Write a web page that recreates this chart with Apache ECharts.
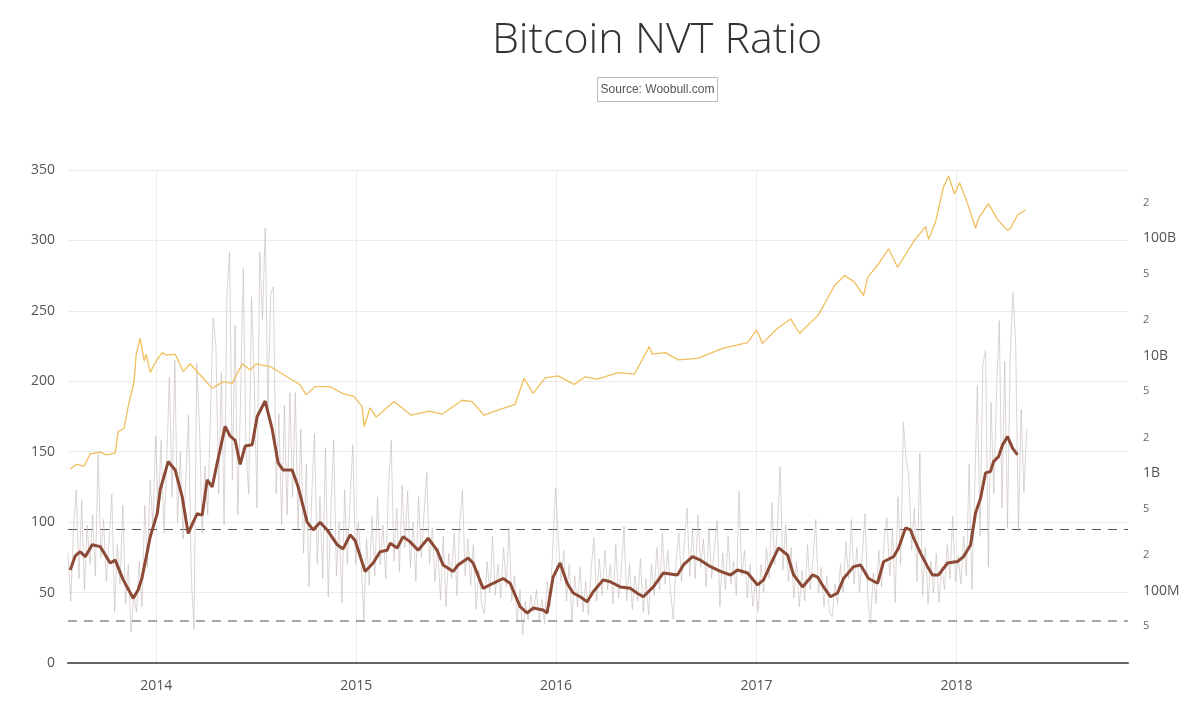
<!DOCTYPE html>
<html>
<head>
<meta charset="utf-8">
<title>Bitcoin NVT Ratio</title>
<script src="https://cdn.jsdelivr.net/npm/echarts@6/dist/echarts.min.js"></script>
<style>
  html, body { margin: 0; padding: 0; background: #fff; }
  #main { width: 1200px; height: 704px; }
</style>
</head>
<body>
<div id="main"></div>
<script>
// daily NVT, one reading every 5 days starting 2013-07-24
var nvtStart = Date.UTC(2013, 6, 24);
var nvtStepDays = 5;
var nvtDaily = [
  78, 44, 95, 123, 60, 116, 52, 98, 70, 105, 62, 148, 75, 102, 58, 88, 120, 36, 84, 56,
  112, 42, 70, 22, 48, 36, 72, 40, 112, 68, 130, 96, 161,
  110, 158, 92, 140, 203, 118, 215, 100, 150, 88, 130, 176, 62, 24, 213, 168, 92, 140, 105, 175,
  245, 225, 120, 206, 98, 260, 292, 130, 240, 105, 188, 280, 150, 120, 260, 201, 110, 292, 244, 309,
  180, 262, 267, 120, 177, 98, 183, 105, 192, 118, 192, 95, 166, 78, 141, 54, 120, 163, 70, 118,
  60, 153, 47, 110, 158, 62, 100, 43, 123, 70, 118, 155, 70,
  100, 72, 31, 88, 55, 104, 62, 118, 70, 98, 60, 125, 158, 72, 110, 65, 126, 82, 122, 68,
  100, 58, 118, 75, 106, 135, 70, 96, 58, 82, 45, 90, 40, 78, 60, 92, 48, 100, 123, 62,
  88, 55, 84, 38, 66, 42, 35, 72, 50, 90, 48, 70, 46, 82, 54, 96, 44, 62, 30, 52,
  20, 44, 30, 48, 36, 52, 30, 45, 28, 58, 40, 82, 124,
  90, 58, 80, 44, 70, 30, 62, 40, 68, 36, 58, 34, 66, 89, 44, 74, 48, 80, 52, 70,
  42, 84, 46, 66, 97, 44, 70, 38, 62, 44, 74, 36, 60, 34, 70, 48, 82, 52, 92, 56,
  80, 50, 31, 72, 92, 58, 84, 110, 62, 96, 60, 105, 68, 88, 54, 96, 60, 82, 101, 40,
  78, 52, 90, 56, 72, 48, 122, 62, 80, 46, 70, 40, 58,
  36, 70, 50, 82, 60, 114, 70, 96, 139, 66, 98, 58, 82, 46, 72, 40, 66, 44, 84, 52,
  74, 102, 50, 68, 40, 62, 36, 33, 56, 42, 70, 50, 86, 60, 102, 56, 82, 50, 78, 106,
  46, 28, 64, 42, 80, 54, 88, 103, 62, 96, 43, 118, 70, 171, 145, 132, 80, 110, 58, 149,
  48, 82, 42, 72, 50, 78, 43, 68, 52, 84, 60, 104, 58,
  76, 56, 90, 62, 141, 52, 120, 197, 90, 212, 222, 68, 185, 120, 192, 243, 110, 214, 96, 217,
  263, 226, 93, 180, 121, 166
];

// smoothed NVT: [decimal year, ratio]
var nvtSmooth = [
  [2013.57, 66], [2013.595, 76], [2013.62, 79], [2013.645, 75.5], [2013.68, 84], [2013.72, 82.6],
  [2013.77, 71], [2013.795, 73], [2013.835, 59], [2013.885, 46], [2013.91, 52], [2013.93, 61],
  [2013.97, 89.5], [2014.005, 106], [2014.02, 123], [2014.06, 143], [2014.095, 137], [2014.13, 118],
  [2014.16, 92], [2014.185, 100], [2014.205, 106], [2014.23, 105], [2014.255, 130], [2014.28, 125],
  [2014.305, 142], [2014.345, 168], [2014.37, 161], [2014.395, 158], [2014.42, 141], [2014.445, 154],
  [2014.48, 155], [2014.505, 175], [2014.545, 186], [2014.58, 166], [2014.61, 142], [2014.635, 137],
  [2014.68, 137], [2014.71, 125], [2014.755, 100], [2014.785, 94.5], [2014.82, 100], [2014.855, 94.5],
  [2014.905, 84], [2014.935, 81], [2014.97, 91], [2014.995, 87], [2015.045, 65], [2015.085, 71],
  [2015.12, 79], [2015.155, 80], [2015.17, 85], [2015.205, 81.6], [2015.235, 89.7], [2015.27, 86],
  [2015.31, 80], [2015.36, 88.6], [2015.405, 80], [2015.435, 69.6], [2015.485, 65], [2015.51, 69.6],
  [2015.56, 74.5], [2015.585, 71], [2015.635, 53], [2015.685, 56.6], [2015.735, 60], [2015.77, 56.6],
  [2015.82, 40], [2015.855, 35.5], [2015.885, 39], [2015.935, 37.6], [2015.955, 35.5], [2015.985, 61],
  [2016.02, 71], [2016.055, 56.6], [2016.085, 49.7], [2016.12, 47], [2016.155, 43.5], [2016.185, 50.6],
  [2016.235, 59], [2016.27, 57.7], [2016.32, 54], [2016.37, 53], [2016.405, 49.5], [2016.435, 47],
  [2016.485, 54], [2016.535, 63.9], [2016.605, 62.5], [2016.635, 69.6], [2016.68, 75.5], [2016.72, 73],
  [2016.77, 68.4], [2016.82, 65], [2016.87, 62.5], [2016.905, 66], [2016.955, 63.9], [2017.005, 55.4],
  [2017.035, 59], [2017.08, 73], [2017.11, 81.7], [2017.155, 76.7], [2017.185, 62.5], [2017.23, 54],
  [2017.28, 62.5], [2017.305, 61], [2017.335, 54], [2017.37, 47], [2017.405, 49.7], [2017.435, 60],
  [2017.485, 68.4], [2017.52, 69.6], [2017.56, 60], [2017.605, 56.6], [2017.635, 71.9], [2017.685, 75.5],
  [2017.71, 81.7], [2017.745, 95.9], [2017.77, 94.5], [2017.785, 88.8], [2017.82, 78], [2017.855, 68.4],
  [2017.88, 62.5], [2017.91, 62.5], [2017.955, 71], [2018.005, 72], [2018.035, 75.5], [2018.07, 83.8],
  [2018.095, 106.5], [2018.12, 117], [2018.145, 135], [2018.17, 136], [2018.185, 143], [2018.21, 146.5],
  [2018.23, 154.8], [2018.255, 160.7], [2018.28, 152.5], [2018.305, 147.7]
];

// market cap in billions USD: [decimal year, value]
var marketCap = [
  [2013.57, 1.08], [2013.60, 1.19], [2013.64, 1.15], [2013.67, 1.46], [2013.72, 1.51], [2013.75, 1.43],
  [2013.795, 1.49], [2013.81, 2.25], [2013.84, 2.41], [2013.86, 3.69], [2013.89, 6.08], [2013.90, 10.3],
  [2013.92, 14.0], [2013.94, 9.0], [2013.95, 10.3], [2013.97, 7.19], [2014.00, 9.0], [2014.03, 10.6],
  [2014.05, 10.1], [2014.095, 10.3], [2014.135, 7.31], [2014.17, 8.52], [2014.22, 6.84], [2014.28, 5.28],
  [2014.335, 6.01], [2014.38, 5.80], [2014.43, 8.50], [2014.47, 7.55], [2014.50, 8.50], [2014.57, 8.07],
  [2014.64, 6.84], [2014.72, 5.64], [2014.75, 4.63], [2014.795, 5.45], [2014.87, 5.45], [2014.93, 4.78],
  [2014.99, 4.48], [2015.03, 3.68], [2015.04, 2.49], [2015.07, 3.60], [2015.10, 3.00], [2015.19, 4.06],
  [2015.275, 3.11], [2015.365, 3.37], [2015.43, 3.17], [2015.53, 4.17], [2015.58, 4.06], [2015.64, 3.11],
  [2015.72, 3.49], [2015.795, 3.84], [2015.84, 6.41], [2015.885, 4.77], [2015.945, 6.47], [2016.01, 6.71],
  [2016.09, 5.69], [2016.145, 6.58], [2016.205, 6.30], [2016.31, 7.17], [2016.39, 6.94], [2016.465, 11.9],
  [2016.48, 10.3], [2016.545, 10.6], [2016.61, 9.18], [2016.705, 9.46], [2016.83, 11.5], [2016.955, 12.9],
  [2017.00, 16.5], [2017.03, 12.7], [2017.10, 16.8], [2017.17, 20.5], [2017.215, 15.4], [2017.31, 22.3],
  [2017.39, 39.4], [2017.44, 47.9], [2017.49, 42.1], [2017.535, 32.3], [2017.555, 46.3], [2017.61, 60.1],
  [2017.66, 81.0], [2017.705, 56.4], [2017.79, 96.0], [2017.845, 125], [2017.86, 97.3], [2017.895, 137],
  [2017.935, 273], [2017.96, 337], [2017.99, 238], [2018.015, 295], [2018.055, 196], [2018.095, 121],
  [2018.11, 147], [2018.16, 196], [2018.205, 144], [2018.255, 116], [2018.27, 121], [2018.305, 157],
  [2018.345, 173]
];

var yearTicks = [2014, 2015, 2016, 2017, 2018];
var capTicks = [0.05, 0.1, 0.2, 0.5, 1, 2, 5, 10, 20, 50, 100, 200];
var capNames = { '0.1': '100M', '1': '1B', '10': '10B', '100': '100B' };
var bandLevels = [95, 30];

function yearToTime(y) {
  var yr = Math.floor(y);
  var s = Date.UTC(yr, 0, 1), e = Date.UTC(yr + 1, 0, 1);
  return s + (y - yr) * (e - s);
}

var dailyData = nvtDaily.map(function (v, i) {
  return [nvtStart + i * nvtStepDays * 86400000, v];
});
var smoothData = nvtSmooth.map(function (p) { return [yearToTime(p[0]), p[1]]; });
var capData = marketCap.map(function (p) { return [yearToTime(p[0]), p[1]]; });
var yearTimes = yearTicks.map(function (y) { return Date.UTC(y, 0, 1); });

var chart = echarts.init(document.getElementById('main'));

var option = {
  animation: false,
  backgroundColor: '#fff',
  textStyle: { fontFamily: '"Open Sans", "DejaVu Sans", sans-serif' },
  grid: { left: 68, right: 72, top: 170, bottom: 41 },
  graphic: [
    {
      type: 'text', x: 657, y: 41,
      style: {
        text: 'Bitcoin NVT Ratio', fill: '#333',
        fontSize: 43, fontWeight: 300, fontFamily: '"Open Sans", sans-serif',
        textAlign: 'center', align: 'center', textVerticalAlign: 'middle', verticalAlign: 'middle'
      }
    },
    {
      type: 'rect',
      shape: { x: 597.5, y: 77.5, width: 120, height: 24 },
      style: { fill: '#fff', stroke: '#bbb', lineWidth: 1 }
    },
    {
      type: 'text', x: 657.5, y: 89.5,
      style: {
        text: 'Source: Woobull.com', fill: '#555',
        fontSize: 12, fontFamily: '"Liberation Sans", Arial, sans-serif',
        textAlign: 'center', align: 'center', textVerticalAlign: 'middle', verticalAlign: 'middle'
      }
    }
  ],
  xAxis: {
    type: 'time',
    min: Date.UTC(2013, 6, 24),
    max: Date.UTC(2018, 10, 10),
    axisLine: { lineStyle: { color: '#666', width: 2 } },
    axisTick: { show: false },
    splitLine: { show: false },
    axisLabel: {
      color: '#555', fontSize: 14, margin: 16,
      showMinLabel: false, showMaxLabel: false,
      formatter: function (v) {
        var d = new Date(v);
        return (d.getUTCMonth() === 0 && d.getUTCDate() === 1) ? String(d.getUTCFullYear()) : '';
      }
    }
  },
  yAxis: [
    {
      type: 'value', min: 0, max: 350, interval: 50,
      axisLine: { show: false },
      axisTick: { show: false },
      axisLabel: { color: '#555', fontSize: 14, margin: 13 },
      splitLine: { lineStyle: { color: '#ebebeb' } }
    },
    {
      type: 'log', logBase: 10, min: 0.0243, max: 378.5, position: 'right',
      axisLine: { show: false },
      axisTick: { show: false },
      splitLine: { show: false },
      minorTick: { show: false },
      axisLabel: {
        customValues: capTicks,
        margin: 15,
        formatter: function (v) {
          for (var k in capNames) {
            if (Math.abs(v / Number(k) - 1) < 1e-6) return '{big|' + capNames[k] + '}';
          }
          var mag = Math.pow(10, Math.floor(Math.log10(v) + 1e-9));
          return '{small|' + Math.round(v / mag) + '}';
        },
        rich: {
          big: { fontSize: 14, color: '#555', fontFamily: '"Open Sans", sans-serif' },
          small: { fontSize: 11, color: '#666', fontFamily: '"Open Sans", sans-serif' }
        }
      }
    }
  ],
  series: [
    {
      name: 'grid',
      type: 'line',
      data: [],
      silent: true,
      markLine: {
        silent: true, symbol: 'none', z: 0,
        label: { show: false },
        lineStyle: { color: '#ebebeb', type: 'solid', width: 1 },
        data: yearTimes.map(function (t) { return { xAxis: t }; })
      }
    },
    {
      name: 'NVT',
      type: 'line',
      data: dailyData,
      showSymbol: false,
      lineStyle: { color: 'rgba(195,185,182,0.6)', width: 1 },
      silent: true,
      z: 2,
      markLine: {
        silent: true, symbol: 'none', z: 1,
        label: { show: false },
        data: [
          { yAxis: bandLevels[0], lineStyle: { color: '#555', width: 1, type: [9, 7] } },
          { yAxis: bandLevels[1], lineStyle: { color: '#888', width: 1.5, type: [9, 7] } }
        ]
      }
    },
    {
      name: 'Market Cap',
      type: 'line',
      yAxisIndex: 1,
      data: capData,
      showSymbol: false,
      lineStyle: { color: '#f0be5c', width: 1.3 },
      z: 3
    },
    {
      name: 'NVT smoothed',
      type: 'line',
      data: smoothData,
      showSymbol: false,
      lineStyle: { color: '#8c4a36', width: 3 },
      z: 4
    }
  ]
};

chart.setOption(option);
</script>
</body>
</html>
